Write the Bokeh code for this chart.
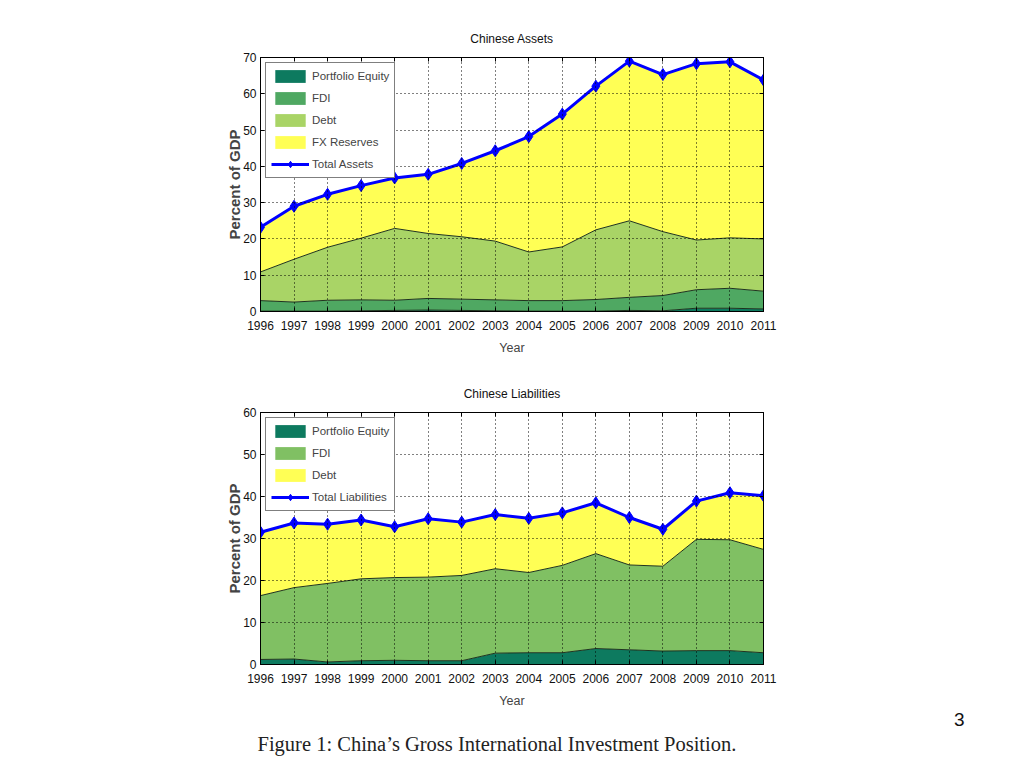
from bokeh.plotting import figure
from bokeh.models import (ColumnDataSource, Range1d, FixedTicker, LinearAxis,
                          Legend, LegendItem, Title)
from bokeh.layouts import column
from bokeh.embed import file_html
from bokeh.resources import INLINE

# ---------------- data (percent of GDP) ----------------
years = list(range(1996, 2012))
year_ticks = years
assets_y_ticks = [0, 10, 20, 30, 40, 50, 60, 70]
liab_y_ticks = [0, 10, 20, 30, 40, 50, 60]

assets_pe = [0.1, 0.1, 0.1, 0.2, 0.3, 0.4, 0.3, 0.2, 0.1, 0.1, 0.1, 0.3, 0.2, 0.9, 0.9, 0.7]
assets_fdi = [2.9, 2.5, 3.0, 3.0, 2.8, 3.2, 3.1, 3.0, 2.9, 2.9, 3.2, 3.6, 4.2, 5.1, 5.5, 4.9]
assets_debt = [7.9, 11.8, 14.6, 17.0, 19.8, 17.9, 17.2, 16.2, 13.4, 14.8, 19.2, 21.1, 17.6, 13.7, 13.9, 14.4]
assets_fx = [12.3, 14.6, 14.6, 14.5, 13.9, 16.3, 20.2, 24.9, 31.8, 36.6, 39.6, 44.0, 43.3, 48.6, 48.5, 43.8]
assets_total = [23.2, 29.0, 32.3, 34.7, 36.8, 37.8, 40.8, 44.3, 48.2, 54.4, 62.1, 69.0, 65.3, 68.3, 68.8, 63.8]

liab_pe = [1.2, 1.3, 0.6, 0.9, 1.0, 0.9, 0.9, 2.7, 2.8, 2.8, 3.8, 3.5, 3.2, 3.3, 3.3, 2.8]
liab_fdi = [15.2, 17.0, 18.7, 19.5, 19.7, 19.9, 20.3, 20.1, 19.1, 20.8, 22.6, 20.2, 20.2, 26.5, 26.4, 24.6]
liab_debt = [15.1, 15.4, 14.1, 14.0, 12.1, 13.9, 12.7, 12.9, 12.9, 12.5, 12.1, 11.3, 8.8, 9.1, 11.2, 12.8]
liab_total = [31.5, 33.7, 33.4, 34.4, 32.8, 34.7, 33.9, 35.7, 34.8, 36.1, 38.5, 35.0, 32.2, 38.9, 40.9, 40.2]

caption = "Figure 1: China\u2019s Gross International Investment Position."
page_number = "3"

# ---------------- styles ----------------
C_PE = "#0d7a5f"
C_FDI_A = "#4fa862"
C_DEBT_A = "#a9d466"
C_YELLOW = "#ffff55"
C_FDI_L = "#80c063"
EDGE = "#1e321e"
BLUE = "#0000ff"
SANS = "Liberation Sans"


def make_panel(title, ymax, yticks, names, data, colors, labels,
               total, total_label, height, btop, bbottom):
    src = ColumnDataSource(dict(year=years, total=total, **dict(zip(names, data))))
    p = figure(width=1008, height=height, x_range=Range1d(1996, 2011),
               y_range=Range1d(0, ymax), output_backend="svg",
               toolbar_location=None, title=title,
               min_border_left=260, min_border_right=245,
               min_border_top=btop, min_border_bottom=bbottom,
               background_fill_color="white", border_fill_color="white")
    p.title.text_font = SANS
    p.title.text_font_size = "12px"
    p.title.text_font_style = "normal"
    p.title.align = "center"
    p.title.text_color = "#111111"
    p.title.standoff = 23
    p.outline_line_color = "black"
    p.outline_line_width = 1

    areas = p.varea_stack(stackers=names, x="year", color=colors, source=src)
    p.vline_stack(stackers=names[:-1], x="year", color=EDGE, line_width=1, source=src)
    ln = p.line("year", "total", source=src, color=BLUE, line_width=3)
    mk = p.scatter("year", "total", source=src, marker="diamond", size=12,
                   color=BLUE)

    items = [LegendItem(label=lab, renderers=[r]) for lab, r in zip(labels, areas)]
    items.append(LegendItem(label=total_label, renderers=[ln, mk]))
    leg = Legend(items=items, location="top_left", margin=5, padding=5,
                 spacing=6, glyph_width=38, glyph_height=16, label_height=16,
                 label_standoff=3, label_text_font=SANS,
                 label_text_font_size="11.5px", border_line_color="black",
                 border_line_width=1, background_fill_alpha=1.0)
    p.add_layout(leg, "center")

    xt = FixedTicker(ticks=year_ticks)
    yt = FixedTicker(ticks=yticks)
    for ax, t in ((p.xaxis[0], xt), (p.yaxis[0], yt)):
        ax.ticker = t
        ax.major_tick_in = 4
        ax.major_tick_out = 0
        ax.minor_tick_line_color = None
        ax.axis_line_color = "black"
        ax.major_label_text_font = SANS
        ax.major_label_text_font_size = "12px"
        ax.major_label_text_color = "#111111"
    p.xaxis.major_label_standoff = 9
    p.yaxis.major_label_standoff = 4
    p.xaxis.axis_label = "Year"
    p.xaxis.axis_label_text_font = SANS
    p.xaxis.axis_label_text_font_size = "12.5px"
    p.xaxis.axis_label_text_font_style = "normal"
    p.xaxis.axis_label_standoff = 8
    p.yaxis.axis_label = "Percent of GDP"
    p.yaxis.axis_label_text_font = SANS
    p.yaxis.axis_label_text_font_size = "15px"
    p.yaxis.axis_label_text_font_style = "bold"
    p.yaxis.axis_label_standoff = -3

    # box-style ticks on top and right
    top = LinearAxis(ticker=xt, major_tick_in=4, major_tick_out=0,
                     minor_tick_line_color=None, major_label_text_color=None,
                     major_label_standoff=0, axis_line_color="black")
    right = LinearAxis(ticker=yt, major_tick_in=4, major_tick_out=0,
                       minor_tick_line_color=None, major_label_text_color=None,
                       major_label_standoff=0, axis_line_color="black")
    p.add_layout(top, "above")
    p.add_layout(right, "right")

    for g, t in ((p.xgrid[0], xt), (p.ygrid[0], yt)):
        g.ticker = t
        g.grid_line_color = "black"
        g.grid_line_dash = "1 3"
        g.grid_line_width = 1
        g.level = "guide"
    return p


p1 = make_panel("Chinese Assets", 70, assets_y_ticks,
                ["pe", "fdi", "debt", "fx"],
                [assets_pe, assets_fdi, assets_debt, assets_fx],
                [C_PE, C_FDI_A, C_DEBT_A, C_YELLOW],
                ["Portfolio Equity", "FDI", "Debt", "FX Reserves"],
                assets_total, "Total Assets", 372, 57, 61)

p2 = make_panel("Chinese Liabilities", 60, liab_y_ticks,
                ["pe", "fdi", "debt"],
                [liab_pe, liab_fdi, liab_debt],
                [C_PE, C_FDI_L, C_YELLOW],
                ["Portfolio Equity", "FDI", "Debt"],
                liab_total, "Total Liabilities", 388, 40, 96)

# page number and caption in the lower panel's bottom border
p2.add_layout(Title(text=page_number, align="right", offset=-201, standoff=0,
                    text_font=SANS, text_font_size="19px", text_font_style="normal",
                    text_color="#111111"), "below")
p2.add_layout(Title(text=caption, align="left", offset=-3, standoff=10,
                    text_font="Liberation Serif", text_font_size="20.5px",
                    text_font_style="normal", text_color="#222222"), "below")

layout = column(p1, p2, spacing=0)
open("out.html", "w").write(file_html(layout, INLINE))
